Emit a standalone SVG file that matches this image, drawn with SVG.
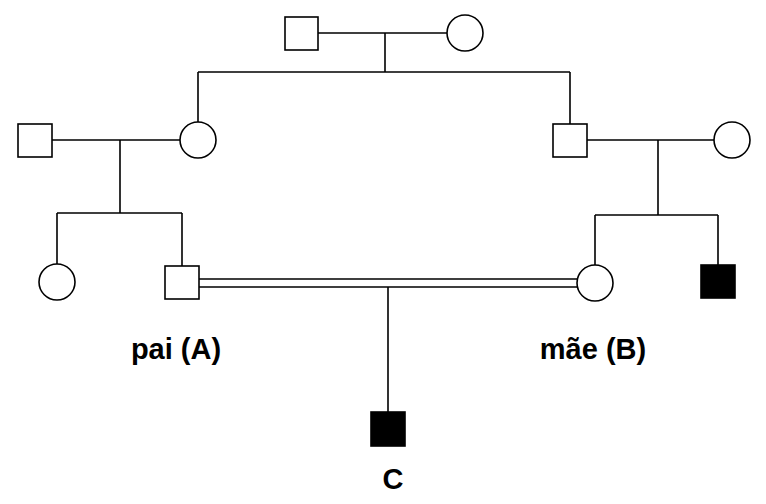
<svg xmlns="http://www.w3.org/2000/svg" width="766" height="504" viewBox="0 0 766 504">
<style>
.s{fill:#fff;stroke:#000;stroke-width:1.6}
.f{fill:#000;stroke:#000;stroke-width:1.6}
.l{fill:none;stroke:#000;stroke-width:1.6}
.t{font-family:"Liberation Sans",Arial,sans-serif;font-size:29px;font-weight:bold;fill:#000}
</style>
<rect width="766" height="504" fill="#fff"/>
<g id="connectors">
<path class="l" d="M318 33H447M385 33V72M198 72H570M198 72V122M570 72V124"/>
<path class="l" d="M52 140H180M120 140V213M57 213H182M57 213V264M182 213V266"/>
<path class="l" d="M587 140H714M658 140V215M595 215H718M595 215V265M718 215V265"/>
<path class="l" d="M199 279H577M199 287H577M388 287V412"/>
</g>
<g id="gf"><rect class="s" x="285" y="17" width="33" height="33"/></g>
<g id="gm"><circle class="s" cx="465" cy="33" r="18"/></g>
<g id="p1"><rect class="s" x="18" y="124" width="34" height="33"/></g>
<g id="p2"><circle class="s" cx="198" cy="140" r="18"/></g>
<g id="p3"><rect class="s" x="553" y="124" width="34" height="33"/></g>
<g id="p4"><circle class="s" cx="732" cy="140" r="18"/></g>
<g id="p5"><circle class="s" cx="57" cy="282" r="18"/></g>
<g id="pai"><rect class="s" x="165" y="266" width="34" height="33"/><text class="t" x="176" y="359" text-anchor="middle">pai (A)</text></g>
<g id="mae"><circle class="s" cx="595" cy="283" r="18"/><text class="t" x="593" y="359" text-anchor="middle">mãe (B)</text></g>
<g id="p8"><rect class="f" x="701" y="265" width="34" height="33"/></g>
<g id="c"><rect class="f" x="371" y="412" width="34" height="34"/><text class="t" x="393" y="489" text-anchor="middle">C</text></g>
</svg>
